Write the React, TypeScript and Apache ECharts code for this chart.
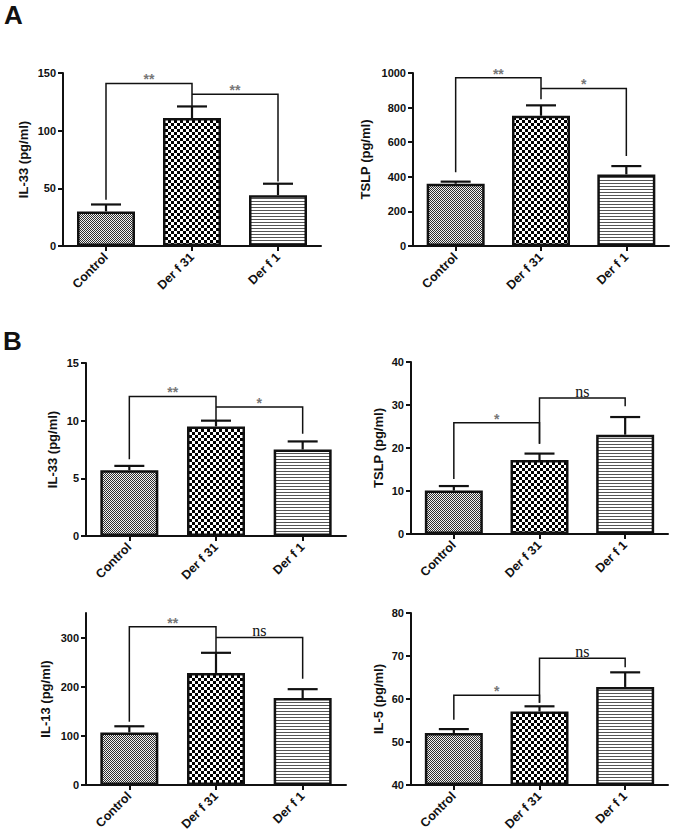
import React, { useEffect, useRef } from "react";
import * as echarts from "echarts";

const categories = ["Control", "Der f 31", "Der f 1"];

// Panel A
const il33A = [30, 111, 44];
const il33ASem = [6, 10, 10];
const tslpA = [360, 753, 414];
const tslpASem = [12, 60, 48];
// Panel B
const il33B = [5.7, 9.5, 7.5];
const il33BSem = [0.38, 0.5, 0.7];
const tslpB = [10.1, 17.2, 23.1];
const tslpBSem = [1.05, 1.5, 4.1];
const il13B = [107, 228, 177];
const il13BSem = [12.5, 41, 18];
const il5B = [52.1, 57.1, 62.8];
const il5BSem = [0.9, 1.2, 3.4];

// significance brackets: [fromIdx, toIdx, top, leftLegEnd, rightLegEnd]
const il33ABrackets = [[0, 1, 141, 40, 121], [1, 2, 131.5, 131.5, 56]];
const il33AMarks = ["**", "**"];
const tslpABrackets = [[0, 1, 973, 426, 848], [1, 2, 911, 911, 520]];
const tslpAMarks = ["**", "*"];
const il33BBrackets = [[0, 1, 12.1, 6.66, 10.0], [1, 2, 11.18, 11.18, 8.86]];
const il33BMarks = ["**", "*"];
const tslpBBrackets = [[0, 1, 25.9, 12.8, 21.0], [1, 2, 31.6, 21.0, 29.7]];
const tslpBMarks = ["*", "ns"];
const il13BBrackets = [[0, 1, 322, 128.6, 269], [1, 2, 300, 300, 216]];
const il13BMarks = ["**", "ns"];
const il5BBrackets = [[0, 1, 60.9, 55.2, 59.1], [1, 2, 69.5, 59.1, 67.4]];
const il5BMarks = ["*", "ns"];

// axis ticks
const il33ATicks = [0, 50, 100, 150];
const tslpATicks = [0, 200, 400, 600, 800, 1000];
const il33BTicks = [0, 5, 10, 15];
const tslpBTicks = [0, 10, 20, 30, 40];
const il13BTicks = [0, 100, 200, 300];
const il5BTicks = [40, 50, 60, 70, 80];

const FONT = '"Liberation Sans", Arial, Helvetica, sans-serif';

function makeTile(kind: string): HTMLCanvasElement {
  const c = document.createElement("canvas");
  const ctx = c.getContext("2d")!;
  if (kind === "fine") {
    c.width = 2;
    c.height = 2;
    ctx.fillStyle = "#f2f2f2";
    ctx.fillRect(0, 0, 2, 2);
    ctx.fillStyle = "#2e2e2e";
    ctx.fillRect(0, 0, 1, 1);
    ctx.fillRect(1, 1, 1, 1);
  } else if (kind === "checker") {
    c.width = 6;
    c.height = 6;
    ctx.fillStyle = "#ffffff";
    ctx.fillRect(0, 0, 6, 6);
    ctx.fillStyle = "#000000";
    ctx.fillRect(0, 0, 3, 3);
    ctx.fillRect(3, 3, 3, 3);
  } else {
    c.width = 4;
    c.height = 3;
    ctx.fillStyle = "#ffffff";
    ctx.fillRect(0, 0, 4, 3);
    ctx.fillStyle = "#555555";
    ctx.fillRect(0, 0, 4, 1);
  }
  return c;
}

type Panel = {
  name: string;
  values: number[];
  sem: number[];
  brackets: number[][];
  marks: string[];
  ticks: number[];
  min: number;
  max: number;
  interval: number;
  grid: { left: number; top: number; width: number; height: number };
  nameGap: number;
};

const panels: Panel[] = [
  { name: "IL-33 (pg/ml)", values: il33A, sem: il33ASem, brackets: il33ABrackets, marks: il33AMarks, ticks: il33ATicks, min: 0, max: 150, interval: 50, grid: { left: 63, top: 73, width: 258, height: 173 }, nameGap: 33 },
  { name: "TSLP (pg/ml)", values: tslpA, sem: tslpASem, brackets: tslpABrackets, marks: tslpAMarks, ticks: tslpATicks, min: 0, max: 1000, interval: 200, grid: { left: 413, top: 73, width: 256, height: 173 }, nameGap: 41 },
  { name: "IL-33 (pg/ml)", values: il33B, sem: il33BSem, brackets: il33BBrackets, marks: il33BMarks, ticks: il33BTicks, min: 0, max: 15, interval: 5, grid: { left: 86, top: 363, width: 260, height: 173 }, nameGap: 27 },
  { name: "TSLP (pg/ml)", values: tslpB, sem: tslpBSem, brackets: tslpBBrackets, marks: tslpBMarks, ticks: tslpBTicks, min: 0, max: 40, interval: 10, grid: { left: 411, top: 362, width: 257, height: 172 }, nameGap: 26 },
  { name: "IL-13 (pg/ml)", values: il13B, sem: il13BSem, brackets: il13BBrackets, marks: il13BMarks, ticks: il13BTicks, min: 0, max: 350, interval: 100, grid: { left: 86, top: 613, width: 260, height: 172 }, nameGap: 34 },
  { name: "IL-5 (pg/ml)", values: il5B, sem: il5BSem, brackets: il5BBrackets, marks: il5BMarks, ticks: il5BTicks, min: 40, max: 80, interval: 10, grid: { left: 411, top: 613, width: 257, height: 172 }, nameGap: 26 },
];

export default function App() {
  const ref = useRef<HTMLDivElement>(null);

  useEffect(() => {
    if (!ref.current) return;
    const chart = echarts.init(ref.current, null, { renderer: "svg" });
    const tiles = [makeTile("fine"), makeTile("checker"), makeTile("lines")];

    const grids: any[] = [];
    const xAxes: any[] = [];
    const yAxes: any[] = [];
    const series: any[] = [];

    panels.forEach((p, k) => {
      grids.push({ ...p.grid, containLabel: false });
      xAxes.push({
        type: "category",
        gridIndex: k,
        data: categories,
        boundaryGap: true,
        axisLine: { show: true, onZero: false, lineStyle: { color: "#111", width: 2 } },
        axisTick: { show: true, alignWithLabel: true, length: 5, lineStyle: { color: "#111", width: 2 } },
        axisLabel: {
          rotate: 45,
          margin: 9,
          color: "#111",
          fontFamily: FONT,
          fontWeight: "bold",
          fontSize: 12.5,
          interval: 0,
        },
        splitLine: { show: false },
      });
      yAxes.push({
        type: "value",
        gridIndex: k,
        min: p.min,
        max: p.max,
        interval: p.interval,
        startValue: p.min,
        name: p.name,
        nameLocation: "middle",
        nameGap: p.nameGap,
        nameTextStyle: { color: "#111", fontFamily: FONT, fontWeight: "bold", fontSize: 13 },
        axisLine: { show: true, lineStyle: { color: "#111", width: 2 } },
        axisTick: { show: true, length: 5, customValues: p.ticks, lineStyle: { color: "#111", width: 2 } },
        axisLabel: {
          show: true,
          margin: 7,
          customValues: p.ticks,
          formatter: (v: number) => String(v),
          color: "#111",
          fontFamily: FONT,
          fontWeight: "bold",
          fontSize: 11,
        },
        splitLine: { show: false },
      });

      series.push({
        type: "bar",
        xAxisIndex: k,
        yAxisIndex: k,
        barWidth: 58,
        data: p.values.map((v, i) => ({
          value: v,
          itemStyle: {
            color: { image: tiles[i], repeat: "repeat" },
            borderColor: "#111",
            borderWidth: 2.5,
          },
        })),
        emphasis: { disabled: true },
        z: 2,
      });

      series.push({
        type: "custom",
        xAxisIndex: k,
        yAxisIndex: k,
        data: p.values.map((v, i) => [i, v, p.sem[i]]),
        encode: { x: 0, y: 1 },
        clip: false,
        z: 3,
        renderItem: (params: any, api: any) => {
          const x = api.value(0);
          const m = api.value(1);
          const s = api.value(2);
          const base = api.coord([x, m]);
          const top = api.coord([x, m + s]);
          return {
            type: "group",
            children: [
              { type: "line", shape: { x1: base[0], y1: base[1], x2: top[0], y2: top[1] }, style: { stroke: "#111", lineWidth: 2.2 } },
              { type: "line", shape: { x1: top[0] - 15, y1: top[1], x2: top[0] + 15, y2: top[1] }, style: { stroke: "#111", lineWidth: 2.2 } },
            ],
          };
        },
      });

      series.push({
        type: "custom",
        xAxisIndex: k,
        yAxisIndex: k,
        data: p.brackets,
        encode: { x: [0, 1], y: [2, 3, 4] },
        clip: false,
        z: 4,
        renderItem: (params: any, api: any) => {
          const from = api.value(0);
          const to = api.value(1);
          const a = api.coord([from, api.value(2)]);
          const b = api.coord([to, api.value(2)]);
          const la = api.coord([from, api.value(3)]);
          const rb = api.coord([to, api.value(4)]);
          const mark = p.marks[params.dataIndex];
          const isNs = mark === "ns";
          return {
            type: "group",
            children: [
              {
                type: "polyline",
                shape: { points: [la, a, b, rb] },
                style: { stroke: "#111", lineWidth: 1.5, fill: "none" },
              },
              {
                type: "text",
                style: {
                  text: mark,
                  x: (a[0] + b[0]) / 2,
                  y: a[1] - (isNs ? 7 : 4),
                  align: "center",
                  verticalAlign: "middle",
                  fill: isNs ? "#111" : "#777",
                  font: isNs ? '16px "Liberation Serif", "Times New Roman", serif' : "bold 14px " + FONT,
                },
              },
            ],
          };
        },
      });
    });

    chart.setOption({
      animation: false,
      backgroundColor: "#ffffff",
      grid: grids,
      xAxis: xAxes,
      yAxis: yAxes,
      series,
      graphic: [
        { type: "text", left: 4, top: 2, style: { text: "A", font: "bold 26px " + FONT, fill: "#111" } },
        { type: "text", left: 3, top: 328, style: { text: "B", font: "bold 26px " + FONT, fill: "#111" } },
      ],
    });

    return () => chart.dispose();
  }, []);

  return <div ref={ref} style={{ position: "absolute", left: 0, top: 0, width: 675, height: 839 }} />;
}
